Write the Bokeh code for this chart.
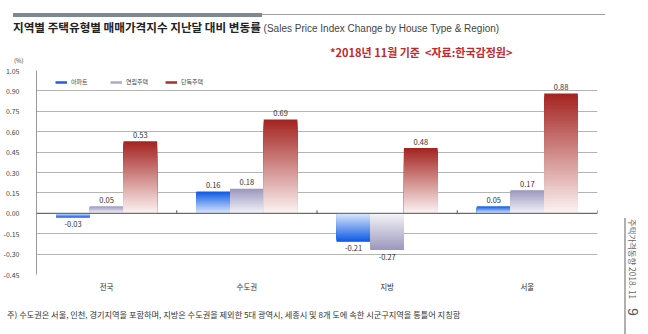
import math
from bokeh.plotting import figure
from bokeh.layouts import column, row
from bokeh.models import (ColumnDataSource, FactorRange, FixedTicker, Span, Div,
                          Legend, LegendItem, CustomJSTickFormatter)
from bokeh.transform import dodge
from bokeh.core.properties import value
from bokeh.embed import file_html
from bokeh.resources import INLINE

# ---------------- data ----------------
regions = ["전국", "수도권", "지방", "서울"]
series_names = ["아파트", "연립주택", "단독주택"]
apt = [-0.03, 0.16, -0.21, 0.05]
row_house = [0.05, 0.18, -0.27, 0.17]
detached = [0.53, 0.69, 0.48, 0.88]
y_ticks = [-0.45, -0.30, -0.15, 0.00, 0.15, 0.30, 0.45, 0.60, 0.75, 0.90, 1.05]

title_ko = "지역별 주택유형별 매매가격지수 지난달 대비 변동률"
title_en = "(Sales Price Index Change by House Type &amp; Region)"
source_note = "*2018년 11월 기준&nbsp; &lt;자료:한국감정원&gt;"
footnote = "주) 수도권은 서울, 인천, 경기지역을 포함하며, 지방은 수도권을 제외한 5대 광역시, 세종시 및 8개 도에 속한 시군구지역을 통틀어 지칭함"
side_text = "주택가격동향 2018. 11"
page_no = "9"

# ---------------- layout constants ----------------
FONT = "Noto Sans CJK KR"
LEFT_W = 612        # width of main column
RIGHT_W = 36        # width of right margin strip
TOP_H = 65          # header height
FIG_TOP, FRAME_H, FIG_BOTTOM = 5, 204, 26
FIG_H = FIG_TOP + FRAME_H + FIG_BOTTOM
BOT_H = 334 - TOP_H - FIG_H
FL, FR = 32, 597

p = figure(width=LEFT_W, height=FIG_H,
           x_range=FactorRange(factors=regions, range_padding=0),
           y_range=(y_ticks[0], y_ticks[-1]),
           output_backend="svg", toolbar_location=None,
           min_border_left=FL, min_border_right=LEFT_W - FR,
           min_border_top=FIG_TOP, min_border_bottom=FIG_BOTTOM)
p.outline_line_color = None
p.background_fill_color = "white"
p.border_fill_color = "white"

# axes
p.yaxis.ticker = FixedTicker(ticks=y_ticks)
p.yaxis.formatter = CustomJSTickFormatter(code="return tick.toFixed(2);")
p.yaxis.major_label_text_font = FONT
p.yaxis.major_label_text_font_size = "7px"
p.yaxis.major_label_text_color = "#444"
p.yaxis.major_tick_line_color = None
p.yaxis.minor_tick_line_color = None
p.yaxis.major_label_standoff = 11
p.yaxis.axis_line_color = "#999999"

p.xaxis.major_label_text_font = FONT
p.xaxis.major_label_text_font_size = "7.5px"
p.xaxis.major_label_text_color = "#333"
p.xaxis.major_tick_line_color = None
p.xaxis.axis_line_color = None
p.xaxis.major_label_standoff = 0

p.xgrid.grid_line_color = None
p.ygrid.ticker = FixedTicker(ticks=y_ticks)
p.ygrid.grid_line_color = "#b4b4b4"
p.ygrid.grid_line_width = 1


def hex2rgb(h):
    h = h.lstrip("#")
    return tuple(int(h[i:i + 2], 16) for i in (0, 2, 4))


def mix(c1, c2, t):
    a, b = hex2rgb(c1), hex2rgb(c2)
    return "#%02x%02x%02x" % tuple(round(a[k] + (b[k] - a[k]) * t) for k in range(3))


N = 40
offsets = [-0.24, 0.0, 0.24]
bar_w = 0.24
palettes = [("#dce8fc", "#0b58e4"), ("#f4f4f8", "#9b97bd"), ("#fcf4f4", "#a3231f")]
leg_colors = ["#1a62e0", "#aeaac8", "#a8302a"]
all_series = [apt, row_house, detached]

# gradient bars: nested bars from the full value down to zero, each lighter
for vals, off, (light, dark) in zip(all_series, offsets, palettes):
    xs, tops, cols = [], [], []
    for i in range(N):
        frac = 1 - i / N
        tcol = 1 - (i + 0.5) / N
        for cat, v in zip(regions, vals):
            xs.append(cat)
            tops.append(v * frac)
            cols.append(mix(light, dark, tcol))
    src = ColumnDataSource(dict(x=xs, top=tops, c=cols))
    p.vbar(x=dodge("x", off, range=p.x_range), top="top", bottom=0, width=bar_w,
           fill_color="c", line_color=None, source=src)

# value labels
for vals, off in zip(all_series, offsets):
    src = ColumnDataSource(dict(x=regions, y=vals, t=["%.2f" % v for v in vals],
                                yo=[-6.5 if v >= 0 else 6.5 for v in vals]))
    p.text(x=dodge("x", off, range=p.x_range), y="y", text="t", y_offset="yo",
           text_align="center", text_baseline="middle",
           text_font=value(FONT), text_font_size="7.5px", text_color="#333333",
           source=src)

# zero line and category separator ticks
p.add_layout(Span(location=0, dimension="width", line_color="#555555", line_width=1))
tick_src = ColumnDataSource(dict(x=regions, y0=[0] * len(regions), y1=[0.022] * len(regions)))
p.segment(x0=dodge("x", 0.5, range=p.x_range), x1=dodge("x", 0.5, range=p.x_range),
          y0="y0", y1="y1", line_color="#555555", line_width=1, source=tick_src)

# legend (dummy renderers carry no visible data)
nan = float("nan")
leg_renderers = [p.line(x=[regions[0]], y=[nan], line_color=c, line_width=2.5) for c in leg_colors]
legend = Legend(items=[LegendItem(label=n, renderers=[r]) for n, r in zip(series_names, leg_renderers)],
                orientation="horizontal", location=(19, 188),
                border_line_color=None, background_fill_alpha=0,
                label_text_font=FONT, label_text_font_size="6px", label_text_color="#444",
                glyph_width=12, glyph_height=6, label_width=30, label_height=8,
                spacing=9, padding=0, margin=0, label_standoff=4)
p.add_layout(legend)

# ---------------- header / footer / side strip (HTML) ----------------
F = "font-family:'Noto Sans CJK KR',sans-serif;"
top_html = f"""
<div style="position:relative;width:{LEFT_W}px;height:{TOP_H}px;background:white;">
  <div style="position:absolute;left:13px;top:13px;width:249px;height:4px;background:#7d8893;"></div>
  <div style="position:absolute;left:262px;top:14px;width:343px;height:1px;background:#a0a0a0;"></div>
  <div style="position:absolute;left:13px;top:20px;height:14px;line-height:14px;white-space:nowrap;{F}">
    <span style="font-size:11.6px;font-weight:bold;color:#222;">{title_ko}</span><span style="font-family:'Liberation Sans',sans-serif;font-size:10px;color:#444;"> {title_en}</span>
  </div>
  <div style="position:absolute;left:330px;top:45px;height:14px;line-height:14px;white-space:nowrap;{F}font-size:11px;font-weight:bold;color:#c3282d;">{source_note}</div>
  <div style="position:absolute;left:14px;top:57px;line-height:8px;white-space:nowrap;{F}font-size:6px;color:#444;">(%)</div>
</div>"""
top_div = Div(text=top_html, width=LEFT_W, height=TOP_H, margin=0)

bot_top = 314 - (TOP_H + FIG_H) - 6
bot_html = f"""
<div style="position:relative;width:{LEFT_W}px;height:{BOT_H}px;background:white;">
  <div style="position:absolute;left:7px;top:{bot_top}px;line-height:12px;white-space:nowrap;{F}font-size:8.2px;color:#333;">{footnote}</div>
</div>"""
bot_div = Div(text=bot_html, width=LEFT_W, height=BOT_H, margin=0)

right_html = f"""
<div style="position:relative;width:{RIGHT_W}px;height:334px;background:white;">
  <div style="position:absolute;left:12px;top:218px;width:2px;height:116px;background:#b0b0b0;"></div>
  <div style="position:absolute;left:26px;top:219px;line-height:10px;white-space:nowrap;transform-origin:0 0;transform:rotate(90deg);{F}font-size:8.4px;color:#666;">{side_text}</div>
  <div style="position:absolute;left:29px;top:308px;line-height:16px;white-space:nowrap;transform-origin:0 0;transform:rotate(90deg);font-family:'Liberation Sans',sans-serif;font-size:14px;color:#555;">{page_no}</div>
</div>"""
right_div = Div(text=right_html, width=RIGHT_W, height=334, margin=0)

layout = row(column(top_div, p, bot_div, spacing=0), right_div, spacing=0)

open("out.html", "w").write(file_html(layout, INLINE))
